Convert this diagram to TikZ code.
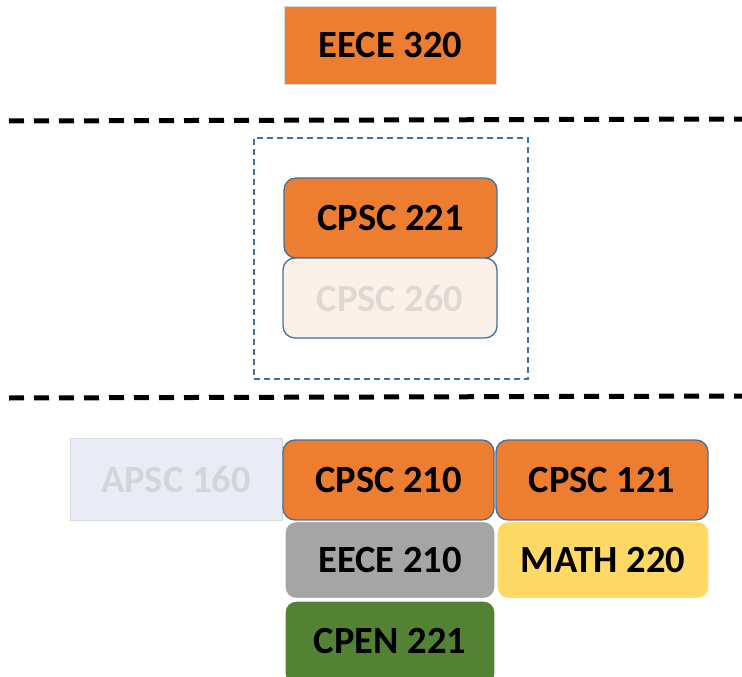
\documentclass[tikz,border=0pt]{standalone}
\usepackage{fontspec}
\setmainfont{Carlito}
\definecolor{orng}{HTML}{ED7D31}
\definecolor{bordblue}{HTML}{41719C}
\definecolor{paleorng}{HTML}{FBF1E8}
\definecolor{paletext}{HTML}{DFD9D4}
\definecolor{palegrey}{HTML}{E9ECF4}
\definecolor{palegreytext}{HTML}{D2D5DC}
\definecolor{greybox}{HTML}{A5A5A5}
\definecolor{yellowbox}{HTML}{FFD966}
\definecolor{greenbox}{HTML}{548235}
\definecolor{lightedge}{HTML}{D9D9D9}
\tikzset{
  course/.style={rectangle, inner sep=0pt, font=\fontsize{38.5}{42}\selectfont\bfseries, text=black},
  roundblue/.style={course, rounded corners=12pt, draw=bordblue, line width=1.3pt},
  roundwhite/.style={course, rounded corners=11pt, draw=white, line width=1.3pt},
  divider/.style={line width=5pt, dash pattern=on 15pt off 10pt},
}
\begin{document}
\begin{tikzpicture}[x=1pt,y=-1pt]
\useasboundingbox (0,0) rectangle (742,677);
\clip (0,0) rectangle (742,677);
% top course
\node[course, fill=orng, draw=lightedge, line width=1pt, minimum width=212pt, minimum height=78pt] (eece320) at (390.5,45.5) {EECE 320};
% dividers
\coordinate (d1a) at (9,121);
\coordinate (d1b) at (742,119);
\coordinate (d2a) at (9,398);
\coordinate (d2b) at (742,396);
\draw[divider] (d1a) -- (d1b);
\draw[divider] (d2a) -- (d2b);
% group box
\node[rectangle, draw=bordblue, line width=1.3pt, dash pattern=on 6pt off 4pt, minimum width=274pt, minimum height=241pt, inner sep=0pt] (grp) at (391,258.5) {};
\node[roundblue, fill=orng, minimum width=213pt, minimum height=80pt] (cpsc221) at (390.5,218) {CPSC 221};
\node[roundblue, fill=paleorng, text=paletext, minimum width=214pt, minimum height=80pt] (cpsc260) at (390,298) {CPSC 260};
% bottom row
\node[course, fill=palegrey, text=palegreytext, draw=lightedge, line width=1pt, minimum width=212pt, minimum height=82pt] (apsc160) at (176,479) {APSC 160};
\node[roundblue, fill=orng, minimum width=211pt, minimum height=80pt] (cpsc210) at (388.5,480) {CPSC 210};
\node[roundblue, fill=orng, minimum width=212pt, minimum height=80pt] (cpsc121) at (602,480) {CPSC 121};
\node[roundwhite, fill=greybox, minimum width=210pt, minimum height=77pt] (eece210) at (390,560) {EECE 210};
\node[roundwhite, fill=yellowbox, minimum width=212pt, minimum height=77pt] (math220) at (603,560) {MATH 220};
\node[roundwhite, fill=greenbox, minimum width=210pt, minimum height=84pt] (cpen221) at (390,643) {\raisebox{4pt}{CPEN 221}};
\end{tikzpicture}
\end{document}
